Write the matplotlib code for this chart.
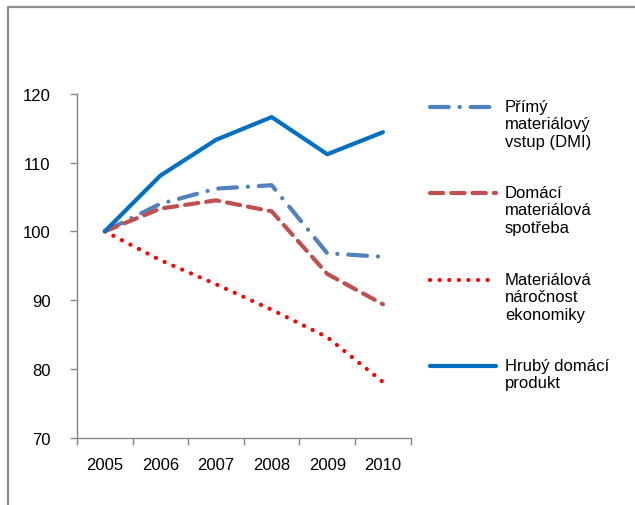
import matplotlib
matplotlib.use('Agg')
import matplotlib.pyplot as plt
from matplotlib.lines import Line2D

years = ['2005', '2006', '2007', '2008', '2009', '2010']
dmi = [100, 104.0, 106.2, 106.7, 96.8, 96.3]        # Přímý materiálový vstup
dmc = [100, 103.3, 104.5, 102.9, 93.8, 89.4]        # Domácí materiálová spotřeba
intensity = [100, 95.8, 92.3, 88.6, 84.6, 78.1]     # Materiálová náročnost
gdp = [100, 108.1, 113.3, 116.6, 111.2, 114.4]      # HDP

labels = ['Přímý\nmateriálový\nvstup (DMI)',
          'Domácí\nmateriálová\nspotřeba',
          'Materiálová\nnáročnost\nekonomiky',
          'Hrubý domácí\nprodukt']

plt.rcParams['font.family'] = ['Liberation Sans', 'DejaVu Sans']
W, H = 635, 506
fig = plt.figure(figsize=(W / 100, H / 100), dpi=100)

def fx(px):
    return px / W

def fy(py):
    return 1 - py / H

ax = fig.add_axes([fx(77), fy(438.7), fx(410.7) - fx(77), fy(94.7) - fy(438.7)])

x = list(range(len(years)))
styles = [
    dict(color='#4F81BD', dashes=(4.5, 2.6, 0.05, 2.6)),
    dict(color='#C0504D', dashes=(3.2, 1.9)),
    dict(color='#FF0000', dashes=(0.05, 2.25)),
    dict(color='#0070C0'),
]
series = [dmi, dmc, intensity, gdp]
for vals, st in zip(series, styles):
    ax.plot(x, vals, lw=3.0, dash_capstyle='round', solid_capstyle='round',
            solid_joinstyle='round', **st)

ax.set_xlim(-0.5, 5.5)
ax.set_ylim(70, 120)
ax.set_yticks(range(70, 121, 10))
ax.set_xticks([i - 0.5 for i in range(7)])
ax.set_xticklabels([])
ax.set_xticks(x, minor=True)
ax.set_xticklabels(years, minor=True)
ax.tick_params(axis='x', which='minor', length=0, pad=14, labelsize=12)
ax.tick_params(axis='x', which='major', length=5, color='#868686', width=1)
ax.tick_params(axis='y', length=5, color='#868686', width=1, pad=14, labelsize=12)
for s in ['top', 'right']:
    ax.spines[s].set_visible(False)
for s in ['left', 'bottom']:
    ax.spines[s].set_color('#868686')
    ax.spines[s].set_linewidth(1)

# legend drawn by hand so the key sits on the first text line
leg_y = [108, 194, 281, 367]
for ly, lab, st in zip(leg_y, labels, styles):
    fig.add_artist(Line2D([fx(430), fx(496)], [fy(ly), fy(ly)], lw=3.0,
                          dash_capstyle='round', solid_capstyle='round', **st))
    fig.text(fx(505), fy(ly - 8), lab, fontsize=12, va='top', ha='left',
             linespacing=1.2, color='black')

# outer chart frame (cut off at right and bottom)
fig.add_artist(Line2D([fx(8), fx(8), fx(W + 5)], [fy(H + 5), fy(8), fy(8)],
                      lw=1.6, color='#8C8C8C'))

fig.savefig('out.png', dpi=100)
